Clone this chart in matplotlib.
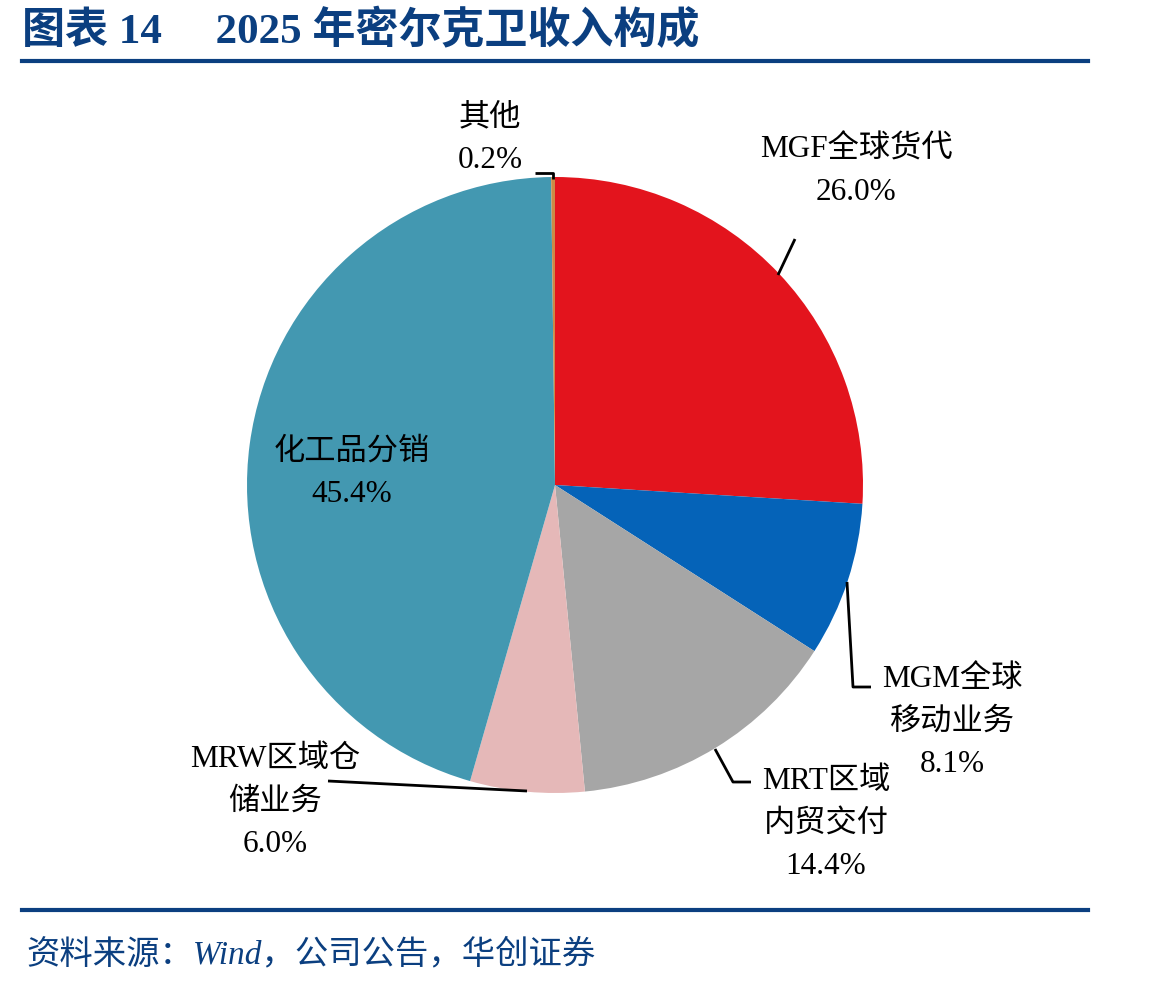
import matplotlib.pyplot as plt
from matplotlib.lines import Line2D

plt.rcParams['font.family'] = ['Liberation Serif', 'Noto Sans CJK SC', 'DejaVu Sans']

# data
labels = ['MGF全球货代', 'MGM全球\n移动业务', 'MRT区域\n内贸交付', 'MRW区域仓\n储业务', '化工品分销', '其他']
shares = [26.0, 8.1, 14.4, 6.0, 45.4, 0.2]
colors = ['#e3141d', '#0563b8', '#a6a6a6', '#e5b8b8', '#4398b1', '#cc8a45']

title = '图表 14     2025 年密尔克卫收入构成'
source = '资料来源：Wind，公司公告，华创证券'
navy = '#0b3f80'

W, H = 1149, 987
fig = plt.figure(figsize=(W / 100, H / 100), dpi=100)

# pie centre (555, 486) px, radius 308 px
cx, cy, r = 555, 486, 308
ax = fig.add_axes([(cx - r) / W, (H - cy - r) / H, 2 * r / W, 2 * r / H])
ax.pie(shares, colors=colors, startangle=90, counterclock=False, radius=1,
       wedgeprops=dict(linewidth=0))
ax.set_xlim(-1, 1)
ax.set_ylim(-1, 1)
ax.set_aspect('equal')
ax.axis('off')


def px(x, y):
    # pixel -> data coords of pie axes
    return (x - cx) / r, (cy - y) / r


fs = 22.5
# label text positions (pixel centres)
label_pos = [(856, 171), (952, 722), (826, 824), (275, 802), (352, 473), (490, 139)]
for lab, val, (x, y) in zip(labels, shares, label_pos):
    tx, ty = px(x, y)
    ax.text(tx, ty, '%s\n%.1f%%' % (lab, val), ha='center', va='center',
            fontsize=fs, linespacing=1.62, clip_on=False)

# leader lines
leaders = [
    [(795, 240), (778, 276)],
    [(847, 583), (853, 688), (871, 688)],
    [(715, 750), (733, 783), (751, 783)],
    [(328, 782), (527, 792)],
    [(535, 174), (553, 174), (553, 180)],
]
for pts in leaders:
    xs, ys = zip(*[px(x, y) for x, y in pts])
    ax.plot(xs, ys, color='black', lw=2, clip_on=False, solid_capstyle='butt')

# title and rules
fig.text(22 / W, 1 - 31 / H, title, fontsize=31, fontweight='bold', color=navy,
         ha='left', va='center')
fig.add_artist(Line2D([22 / W, 1088 / W], [1 - 62 / H, 1 - 62 / H], color=navy, lw=3))
fig.add_artist(Line2D([22 / W, 1088 / W], [1 - 911 / H, 1 - 911 / H], color=navy, lw=3))
fig.text(26 / W, 1 - 955 / H, source, fontsize=24, style='italic', color=navy,
         ha='left', va='center')

fig.savefig('out.png', dpi=100, facecolor='white')
